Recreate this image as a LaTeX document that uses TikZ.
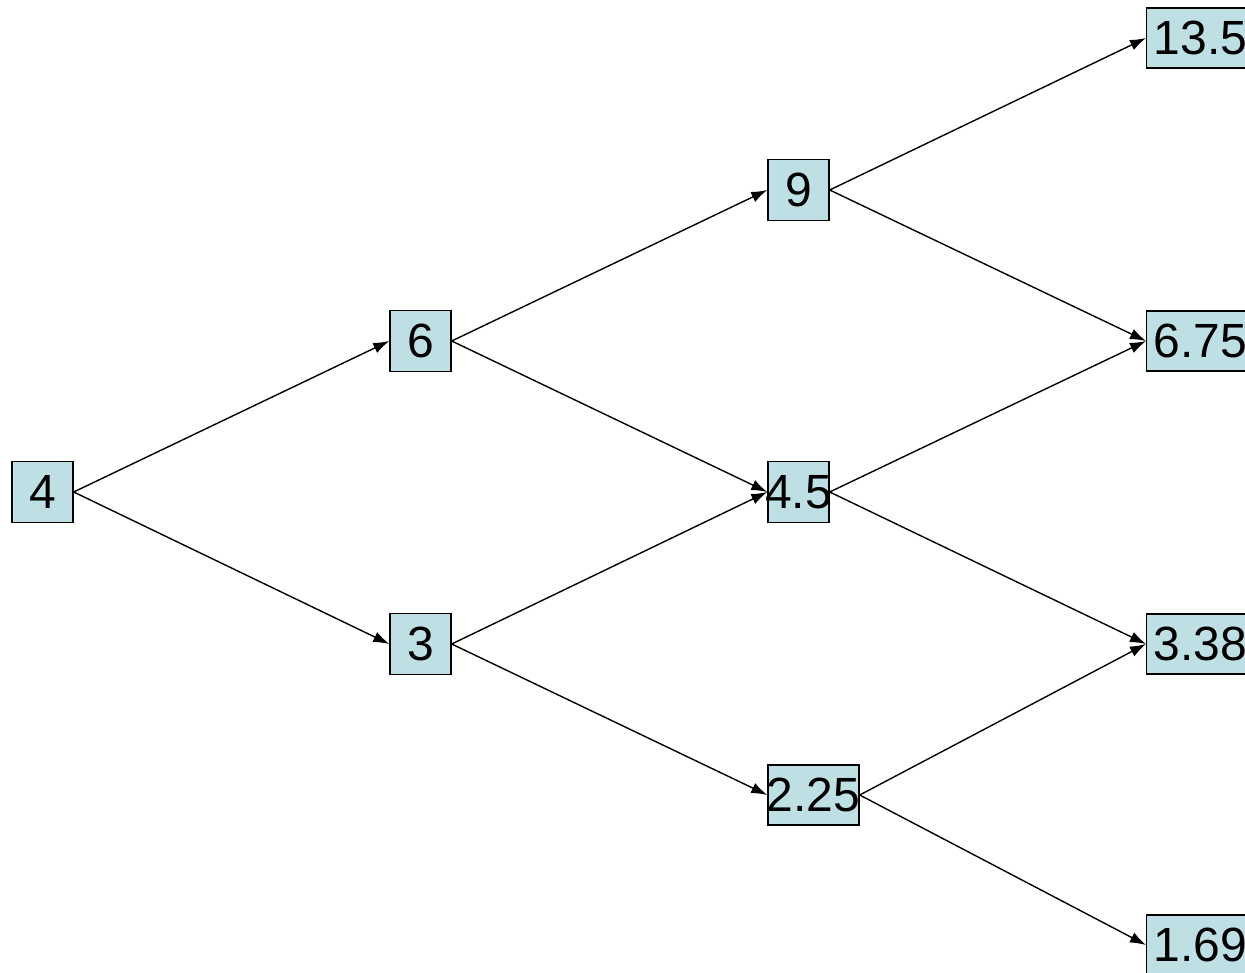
\documentclass[tikz,border=0pt]{standalone}
\usepackage{fontspec}
\setmainfont{Liberation Sans}
\usetikzlibrary{arrows.meta}
\definecolor{boxfill}{RGB}{190,224,228}
\begin{document}
\begin{tikzpicture}[x=1pt,y=-1pt,
  val/.style={draw=black,line width=1.4pt,fill=boxfill,inner sep=0pt,
    minimum width=61pt,minimum height=61pt,font=\fontsize{48}{56}\selectfont},
  leaf/.style={draw=black,line width=1.4pt,fill=boxfill,inner xsep=7pt,inner ysep=0pt,
    anchor=west,minimum height=60pt,text depth=0pt,font=\fontsize{48}{56}\selectfont},
  edge/.style={line width=1.4pt,-{Latex[length=16pt,width=11pt]}}]
\useasboundingbox (0,0) rectangle (1245,973);
\node[val] (n4) at (42.5,492) {\makebox[0pt]{4}};
\node[val] (n6) at (420.5,341) {\makebox[0pt]{6}};
\node[val] (n3) at (420.5,644) {\makebox[0pt]{3}};
\node[val] (n9) at (798.5,190) {\makebox[0pt]{9}};
\node[val] (n45) at (798.5,492) {\makebox[0pt]{4.5}};
\node[val,minimum width=91pt,minimum height=60pt] (n225) at (813.5,795) {\makebox[0pt]{2.25}};
\node[leaf] (n135) at (1146,38) {13.5};
\node[leaf] (n675) at (1146,341) {6.75};
\node[leaf] (n338) at (1146,644) {3.38};
\node[leaf] (n169) at (1146,945) {1.69};
\draw[edge] (n4.east) -- (n6.west);
\draw[edge] (n4.east) -- (n3.west);
\draw[edge] (n6.east) -- (n9.west);
\draw[edge] (n6.east) -- (n45.west);
\draw[edge] (n3.east) -- (n45.west);
\draw[edge] (n3.east) -- (n225.west);
\draw[edge] (n9.east) -- (n135.west);
\draw[edge] (n9.east) -- (n675.west);
\draw[edge] (n45.east) -- (n675.west);
\draw[edge] (n45.east) -- (n338.west);
\draw[edge] (n225.east) -- (n338.west);
\draw[edge] (n225.east) -- (n169.west);
\end{tikzpicture}
\end{document}
